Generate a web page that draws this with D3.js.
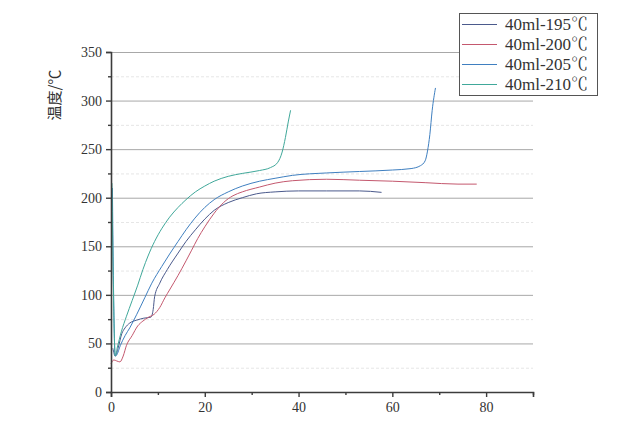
<!DOCTYPE html>
<html><head><meta charset="utf-8">
<script src="https://cdn.jsdelivr.net/npm/d3@7"></script>
<style>body{margin:0;background:#fff}svg{display:block}</style>
</head><body>
<svg id="c" width="621" height="422"></svg>
<script>
const seriesNames = ["40ml-195℃","40ml-200℃","40ml-205℃","40ml-210℃"];
const seriesColors = ["#4b5a8c","#c4586e","#3f7fc0","#40a89a"];
const s195 = [[0.4,45],[0.9,37],[1.5,45],[2.3,60],[3,66],[4,71],[5.5,74],[7,76],[8.5,77],[9,85],[9.3,98],[10.4,112],[12,126],[14.3,143],[16,155],[18,167],[20,178],[22,187],[25,195],[28,200],[31,204],[35,206],[40,207],[46,207],[53,207],[57.7,205.5]];
const s200 = [[0,29],[0.6,33],[1.2,32],[1.9,31],[2.6,37],[3.3,48],[4.5,58],[5.7,68],[6.8,73],[8,77],[9.2,80],[10.4,87],[11.5,97],[12.6,106],[14.3,120],[16,135],[17.2,146],[18.5,158],[20,170],[22,184],[24,195],[26,202],[28,206],[31.7,211],[35,215],[38.7,217.5],[46,219],[53,218],[60,217],[67,215.5],[74,214],[78,214]];
const s205 = [[0.3,210],[0.5,120],[0.9,37],[1.2,38],[2,48],[3,58],[4,66],[5.5,80],[7.2,97],[8.7,112],[10.8,129],[12.5,142],[14.3,155],[16,167],[17.9,179],[20,190],[22,198],[25,206],[28,212],[31.7,217],[35,220],[38.7,223],[46,225.5],[53,227],[60,228.5],[64,230],[66,233],[67,238],[67.5,248],[68,265],[68.5,290],[69.2,313]];
const s210 = [[0.2,215],[0.5,110],[0.9,37],[1.3,45],[2.2,62],[3.3,78],[4.5,94],[5.7,110],[6.8,126],[7.9,140],[9.3,155],[10.8,168],[12.5,180],[14.3,190],[16,198],[18,206],[20,212],[22,217],[25,222],[28,225],[31.7,228],[34,231],[35.5,236],[36.5,247],[37.2,262],[37.8,278],[38.3,290]];
const seriesData = [s195,s200,s205,s210];
const xTicks = [0,20,40,60,80];
const xMinor = [10,30,50,70,90];
const yTicks = [0,50,100,150,200,250,300,350];
const yMinor = [25,75,125,175,225,275,325];
const yTitle = "温度/℃";

const svg = d3.select("#c");
const M = {l:111, r:533, t:52, b:392};
const x = d3.scaleLinear().domain([0,90]).range([M.l,M.r]);
const y = d3.scaleLinear().domain([0,350]).range([M.b,M.t]);
const serif = "'Liberation Serif','Noto Serif CJK SC','Noto Sans CJK SC',serif";

// grid
svg.append("g").selectAll("line").data(yMinor).join("line")
  .attr("x1",M.l).attr("x2",M.r).attr("y1",d=>y(d)+0.5).attr("y2",d=>y(d)+0.5)
  .attr("stroke","#e6e6e6").attr("stroke-width",1).attr("stroke-dasharray","3,2");
svg.append("g").selectAll("line").data(yTicks.filter(d=>d>0)).join("line")
  .attr("x1",M.l).attr("x2",M.r).attr("y1",d=>y(d)+0.5).attr("y2",d=>y(d)+0.5)
  .attr("stroke","#a8a8a8").attr("stroke-width",1);

// lines
const line = d3.line().x(d=>x(d[0])).y(d=>y(d[1])).curve(d3.curveMonotoneX);
svg.append("g").selectAll("path").data(seriesData).join("path")
  .attr("d",line).attr("fill","none").attr("stroke",(d,i)=>seriesColors[i]).attr("stroke-width",1);

// axes
const yAxis = d3.axisLeft(y).tickValues(yTicks).tickSize(5).tickPadding(4);
const gy = svg.append("g").attr("transform",`translate(${M.l},0)`).call(yAxis);
const xAxis = d3.axisBottom(x).tickValues(xTicks).tickSize(5).tickPadding(5);
const gx = svg.append("g").attr("transform",`translate(0,${M.b})`).call(xAxis);
const yAxisMinor = d3.axisLeft(y).tickValues(yMinor).tickSize(3).tickFormat("");
const gym = svg.append("g").attr("transform",`translate(${M.l},0)`).call(yAxisMinor);
const xAxisMinor = d3.axisBottom(x).tickValues(xMinor).tickSize(3).tickFormat("");
const gxm = svg.append("g").attr("transform",`translate(0,${M.b})`).call(xAxisMinor);
[gy,gx,gym,gxm].forEach(g=>{
  g.selectAll("path.domain").attr("stroke","#3c3c3c").attr("stroke-width",1.6);
  g.selectAll(".tick line").attr("stroke","#3c3c3c").attr("stroke-width",1.4);
  g.selectAll("text").attr("font-family",serif).attr("font-size",14).attr("fill","#333");
});
gym.select("path.domain").remove(); gxm.select("path.domain").remove();

// y title
svg.append("text").attr("transform","translate(60,95) rotate(-90)")
  .attr("text-anchor","middle").attr("font-family","'Noto Sans CJK SC',sans-serif")
  .attr("font-size",15).attr("fill","#333").text(yTitle);

// legend
const lg = svg.append("g");
lg.append("rect").attr("x",459.5).attr("y",13.5).attr("width",138).attr("height",82)
  .attr("fill","#fff").attr("stroke","#555").attr("stroke-width",1);
const rows = lg.selectAll("g.r").data(seriesNames).join("g").attr("class","r")
  .attr("transform",(d,i)=>`translate(0,${24+i*20})`);
rows.append("line").attr("x1",462).attr("x2",497).attr("y1",0.5).attr("y2",0.5)
  .attr("stroke",(d,i)=>seriesColors[i]).attr("stroke-width",1);
rows.append("text").attr("x",505).attr("y",6).attr("font-family",serif)
  .attr("font-size",17).attr("fill","#333").text(d=>d);
</script>
</body></html>
